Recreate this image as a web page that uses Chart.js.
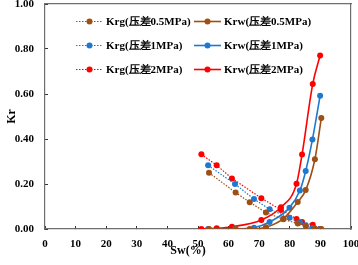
<!DOCTYPE html>
<html>
<head>
<meta charset="utf-8">
<script src="https://cdn.jsdelivr.net/npm/chart.js@4/dist/chart.umd.min.js"></script>
<style>
  html, body { margin: 0; padding: 0; background: #fff; }
  #wrap { width: 358px; height: 265px; }
</style>
</head>
<body>
<div id="wrap"><canvas id="chart"></canvas></div>
<script>
// Sw (%) for each test
const sw05 = [53.6, 62.3, 66.9, 72.2, 77.9, 82.6, 85.2, 88.2, 90.3];
const sw1  = [53.3, 62.1, 68.3, 73.4, 79.9, 83.3, 85.2, 87.4, 89.9];
const sw2  = [51.1, 56.1, 61.1, 70.7, 77.1, 82.2, 84.0, 87.5, 89.9];

// gas relative permeability
const krg05 = [0.250, 0.162, 0.119, 0.073, 0.043, 0.024, 0.013, 0.002, 0.0];
const krg1  = [0.283, 0.200, 0.133, 0.088, 0.050, 0.030, 0.017, 0.004, 0.0];
const krg2  = [0.332, 0.283, 0.225, 0.137, 0.085, 0.045, 0.031, 0.019, 0.0];

// water relative permeability
const krw05 = [0.0, 0.0, 0.0, 0.008, 0.046, 0.120, 0.173, 0.310, 0.493];
const krw1  = [0.0, 0.0, 0.006, 0.031, 0.095, 0.171, 0.258, 0.398, 0.592];
const krw2  = [0.0, 0.003, 0.010, 0.040, 0.097, 0.201, 0.331, 0.645, 0.771];

const xTicks = [0, 10, 20, 30, 40, 50, 60, 70, 80, 90, 100];
const yTicks = [0, 0.2, 0.4, 0.6, 0.8, 1.0];
const xTitle = "Sw(%)";

const BROWN = "#9E4F14";
const BLUE = "#1F78CF";
const RED = "#FF0000";
const AXIS = "#6e6e6e";
const FONT = "'Liberation Serif', 'Times New Roman', serif";

function pts(xs, ys) {
  return xs.map((x, i) => ({ x: x, y: ys[i] }));
}

function krg(label, xs, ys, color) {
  return {
    label: label, data: pts(xs, ys), kind: "krg",
    borderColor: color, backgroundColor: color,
    borderWidth: 1.2, borderDash: [1.5, 1.5],
    pointRadius: 3, pointBorderWidth: 0, tension: 0
  };
}

function krw(label, xs, ys, color) {
  return {
    label: label, data: pts(xs, ys), kind: "krw",
    borderColor: color, backgroundColor: color,
    borderWidth: 1.6, pointRadius: 3, pointBorderWidth: 0,
    cubicInterpolationMode: "monotone"
  };
}

// fixed plot box: drop the extra room chart.js keeps for edge labels
function fixBox(size) {
  return s => {
    if (s.isHorizontal()) s.height = size; else s.width = size;
    s.paddingLeft = 0; s.paddingRight = 0;
    s.paddingTop = 0; s.paddingBottom = 0;
  };
}

// frame-only axes for the top and right edges
function frameAxis(position) {
  return {
    type: "linear",
    position: position,
    display: true,
    min: 0, max: 1,
    afterFit: fixBox(2),
    ticks: { display: false },
    grid: { display: false, drawTicks: false },
    border: { display: true, color: AXIS, width: 1.2 }
  };
}

// two-column legend inside the plot, plus the x title (sits a bit left of centre)
const legendBox = {
  id: "legendBox",
  afterDraw(chart) {
    const ctx = chart.ctx;
    const cols = { krg: 76, krw: 194 };
    const rowY = [21, 45, 69];
    const rows = { krg: 0, krw: 0 };
    ctx.save();
    ctx.font = "bold 11px " + FONT;
    ctx.textBaseline = "middle";
    chart.data.datasets.forEach(ds => {
      const x0 = cols[ds.kind];
      const y = rowY[rows[ds.kind]++] + 0.5;
      ctx.strokeStyle = ds.borderColor;
      ctx.lineWidth = ds.kind === "krg" ? 1.2 : 1.6;
      ctx.setLineDash(ds.kind === "krg" ? [1.5, 1.5] : []);
      ctx.beginPath();
      ctx.moveTo(x0, y);
      ctx.lineTo(x0 + 27, y);
      ctx.stroke();
      ctx.setLineDash([]);
      ctx.fillStyle = ds.borderColor;
      ctx.beginPath();
      ctx.arc(x0 + 13.5, y, 3, 0, Math.PI * 2);
      ctx.fill();
      ctx.fillStyle = "#000";
      ctx.fillText(ds.label, x0 + 30, y + 1);
    });
    ctx.font = "bold 12px " + FONT;
    ctx.textAlign = "center";
    ctx.fillText(xTitle, 188, 251);
    ctx.restore();
  }
};

new Chart(document.getElementById("chart"), {
  type: "line",
  data: {
    datasets: [
      krg("Krg(压差0.5MPa)", sw05, krg05, BROWN),
      krw("Krw(压差0.5MPa)", sw05, krw05, BROWN),
      krg("Krg(压差1MPa)", sw1, krg1, BLUE),
      krw("Krw(压差1MPa)", sw1, krw1, BLUE),
      krg("Krg(压差2MPa)", sw2, krg2, RED),
      krw("Krw(压差2MPa)", sw2, krw2, RED)
    ]
  },
  options: {
    responsive: true,
    maintainAspectRatio: false,
    animation: false,
    layout: { padding: { top: 2, right: 5, left: 0, bottom: 0 } },
    plugins: {
      legend: { display: false },
      tooltip: { enabled: false }
    },
    scales: {
      x: {
        type: "linear",
        min: 0, max: 100,
        afterFit: fixBox(36),
        afterBuildTicks: s => { s.ticks = xTicks.map(v => ({ value: v })); },
        grid: {
          display: true, drawOnChartArea: false, drawTicks: true,
          tickLength: -3, tickColor: "#333", tickWidth: 1
        },
        border: { display: true, color: AXIS, width: 1.2 },
        ticks: {
          padding: 12,
          color: "#000",
          font: { family: FONT, size: 11, weight: "bold" },
          maxRotation: 0
        },
        title: { display: false }
      },
      y: {
        min: 0, max: 1,
        afterFit: fixBox(45),
        afterBuildTicks: s => { s.ticks = yTicks.map(v => ({ value: v })); },
        grid: {
          display: true, drawOnChartArea: false, drawTicks: true,
          tickLength: -3, tickColor: "#333", tickWidth: 1
        },
        border: { display: true, color: AXIS, width: 1.2 },
        ticks: {
          padding: 14,
          color: "#000",
          font: { family: FONT, size: 11, weight: "bold" },
          callback: v => Number(v).toFixed(2)
        },
        title: {
          display: true,
          text: "Kr",
          color: "#000",
          font: { family: FONT, size: 12, weight: "bold" },
          padding: { top: 5, bottom: 0 }
        }
      },
      xTop: frameAxis("top"),
      yRight: frameAxis("right")
    }
  },
  plugins: [legendBox]
});
</script>
</body>
</html>
